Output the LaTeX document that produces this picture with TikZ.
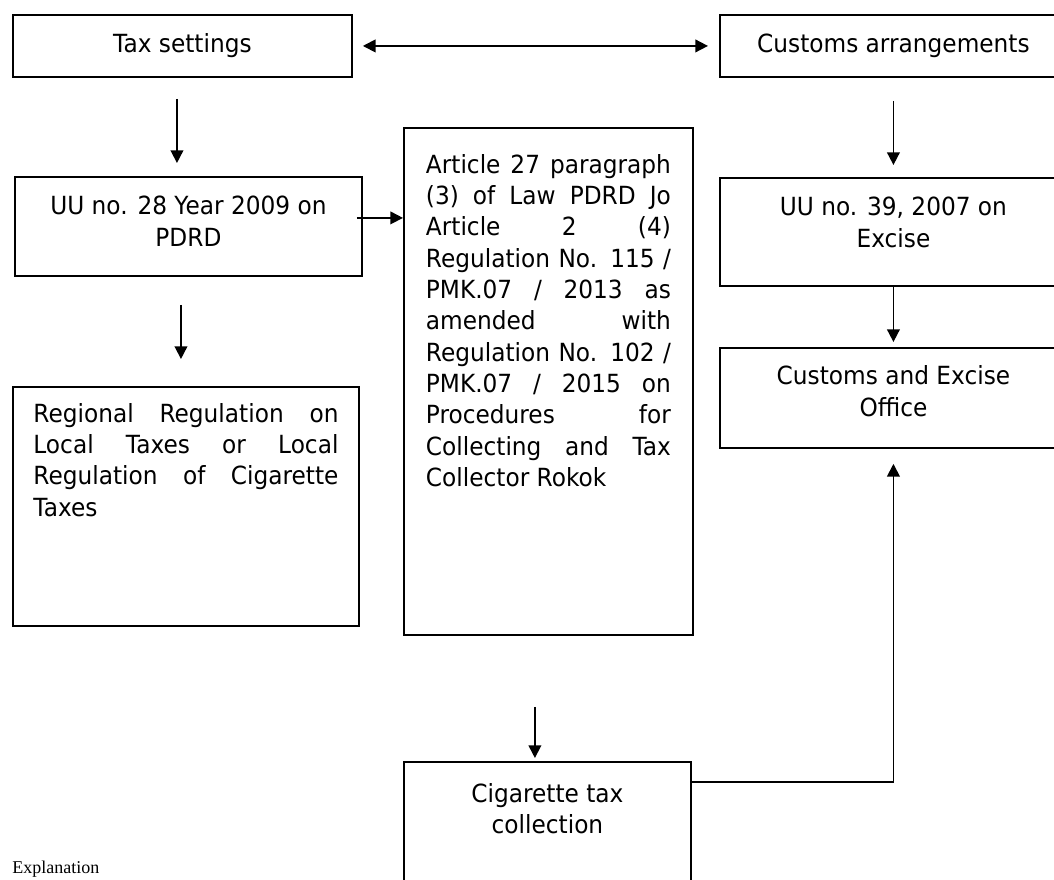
\documentclass[tikz,border=0pt]{standalone}
\usepackage{fontspec}
\setmainfont{DejaVu Sans}[FakeStretch=0.93]
\newfontfamily\notefont{Liberation Serif}
\usetikzlibrary{positioning,arrows.meta}
\tolerance=10000
\hyphenpenalty=10000
\tikzset{
    panel/.style={draw, line width=1.4pt, anchor=north west, inner sep=0pt,
        font=\fontsize{18.75}{23.5}\selectfont},
    words/.style={inner sep=0pt, font=\fontsize{18.75}{23.5}\selectfont},
    flow/.style={-{Triangle[length=9.5pt,width=9.5pt]}, line width=1.3pt},
    both/.style={{Triangle[length=9.5pt,width=9.5pt]}-{Triangle[length=9.5pt,width=9.5pt]}, line width=1.3pt},
}

\begin{document}
\begin{tikzpicture}[x=0.75pt, y=-0.75pt]
        \useasboundingbox (0,0) rectangle (1054,879);
        \clip (0,0) rectangle (1054,879);

        % frames
        \node[panel, minimum width=254.25pt, minimum height=46.5pt] (tax) at (12,14) {Tax settings};
        \node[panel, minimum width=260.25pt, minimum height=46.5pt] (cust) at (719,14) {Customs arrangements};
        \node[panel, minimum width=260.25pt, minimum height=74.25pt] (uu28) at (14,176) {};
        \node[panel, minimum width=260.25pt, minimum height=81pt] (uu39) at (719,177) {};
        \node[panel, minimum width=216.75pt, minimum height=380.25pt] (mid) at (403,127) {};
        \node[panel, minimum width=259.5pt, minimum height=179.25pt] (reg) at (12,386) {};
        \node[panel, minimum width=260.25pt, minimum height=75pt] (office) at (719,347) {};
        \node[panel, minimum width=215.25pt, minimum height=112.5pt] (cig) at (403,761) {};

        % texts
        \node[words, align=center, below=15pt of uu28.north] (uu28txt) {UU no. 28 Year 2009 on\\PDRD};
        \node[words, align=center, below=15pt of uu39.north] (uu39txt) {UU no. 39, 2007 on\\Excise};
        \node[words, align=center, below=14pt of office.north] (officetxt) {Customs and Excise\\Office};
        \node[words, align=center, below=16.5pt of cig.north] (cigtxt) {Cigarette tax\\collection};
        \node[words, align=justify, text width=183.75pt, below=20.25pt of mid.north] (midtxt) {Article 27 paragraph\linebreak
            (3) of Law PDRD Jo\linebreak Article 2 (4)\linebreak Regulation No. 115 /\linebreak
            PMK.07 / 2013 as\linebreak amended with\linebreak Regulation No. 102 /\linebreak
            PMK.07 / 2015 on\linebreak Procedures for\linebreak Collecting and Tax\linebreak
            Collector Rokok};
        \node[words, align=justify, text width=228.75pt, below=12.75pt of reg.north] (regtxt) {Regional Regulation on\linebreak
            Local Taxes or Local\linebreak Regulation of Cigarette\linebreak Taxes};
        \node[anchor=base west, inner sep=0pt, font=\notefont\fontsize{13.5}{16}\selectfont] (note) at (12,873) {Explanation};

        % connectors
        \draw[both, shorten <=7.5pt, shorten >=8.25pt] (tax.east) -- (cust.west);
        \draw[flow, shorten <=15.75pt, shorten >=9.75pt] ([xshift=-4.1pt]tax.south) -- ([xshift=-4.1pt]tax.south |- uu28.north);
        \draw[flow, shorten <=21pt, shorten >=20.25pt] ([xshift=-5.6pt]uu28.south) -- ([xshift=-5.6pt]uu28.south |- reg.north);
        \draw[flow, shorten <=-4.5pt] ([yshift=6.4pt]uu28.east) -- ([yshift=6.4pt]uu28.east -| mid.west);
        \draw[flow, shorten <=17.25pt, shorten >=9pt] (cust.south) -- (uu39.north);
        \draw[flow, shorten >=3.75pt] (uu39.south) -- (office.north);
        \draw[flow, shorten <=53.25pt, shorten >=2.25pt] ([xshift=-9.4pt]cig.north |- mid.south) -- ([xshift=-9.4pt]cig.north);
        \draw[flow, shorten >=11.25pt] ([yshift=-15.75pt]cig.north east) -| (office.south);
\end{tikzpicture}
\end{document}
